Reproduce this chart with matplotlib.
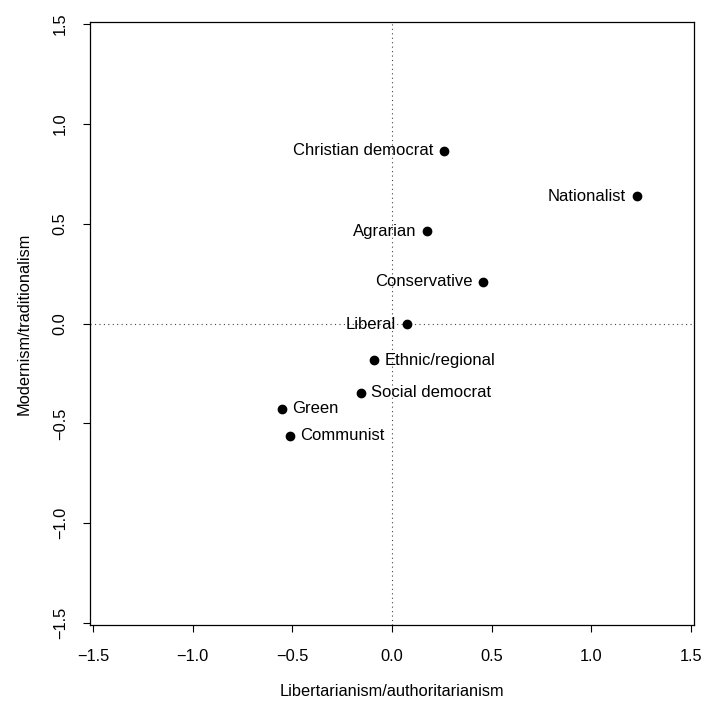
import matplotlib
matplotlib.use("Agg")
import matplotlib.pyplot as plt

plt.rcParams['font.family'] = ['Liberation Sans', 'DejaVu Sans']

# party family positions on the two dimensions
families = ["Christian democrat", "Nationalist", "Agrarian", "Conservative",
            "Liberal", "Ethnic/regional", "Social democrat", "Green", "Communist"]
lib_auth = [0.263, 1.229, 0.178, 0.458, 0.073, -0.088, -0.158, -0.553, -0.513]
mod_trad = [0.864, 0.638, 0.463, 0.208, -0.003, -0.183, -0.348, -0.428, -0.563]
label_side = ["left", "left", "left", "left", "left",
              "right", "right", "right", "right"]

ticks = [-1.5, -1.0, -0.5, 0.0, 0.5, 1.0, 1.5]
tick_labels = ["\u22121.5", "\u22121.0", "\u22120.5", "0.0", "0.5", "1.0", "1.5"]

fig = plt.figure(figsize=(7.05, 7.03), dpi=100)
ax = fig.add_axes([90 / 705, 1 - 625 / 703, 604 / 705, 603 / 703])

ax.axhline(0, color="#444444", lw=0.8, linestyle=(0, (1, 3)), zorder=1)
ax.axvline(0, color="#444444", lw=0.8, linestyle=(0, (1, 3)), zorder=1)

ax.scatter(lib_auth, mod_trad, s=36, color="black", zorder=3)

for name, x, y, side in zip(families, lib_auth, mod_trad, label_side):
    if side == "left":
        ax.annotate(name, (x, y), xytext=(-8, 0), textcoords="offset points",
                    ha="right", va="center", fontsize=12)
    else:
        ax.annotate(name, (x, y), xytext=(7.5, 0), textcoords="offset points",
                    ha="left", va="center", fontsize=12)

ax.set_xlim(-1.515, 1.515)
ax.set_ylim(-1.51, 1.51)
ax.set_xticks(ticks)
ax.set_xticklabels(tick_labels)
ax.set_yticks(ticks)
ax.set_yticklabels(tick_labels, rotation=90, va="center")
ax.tick_params(direction="out", length=5, width=0.8, labelsize=11.8, pad=12)
ax.tick_params(axis="y", pad=11)
for sp in ax.spines.values():
    sp.set_linewidth(0.9)

ax.set_xlabel("Libertarianism/authoritarianism", fontsize=11.8, labelpad=15)
ax.set_ylabel("Modernism/traditionalism", fontsize=11.8, labelpad=15)

fig.savefig("out.png", dpi=100)
